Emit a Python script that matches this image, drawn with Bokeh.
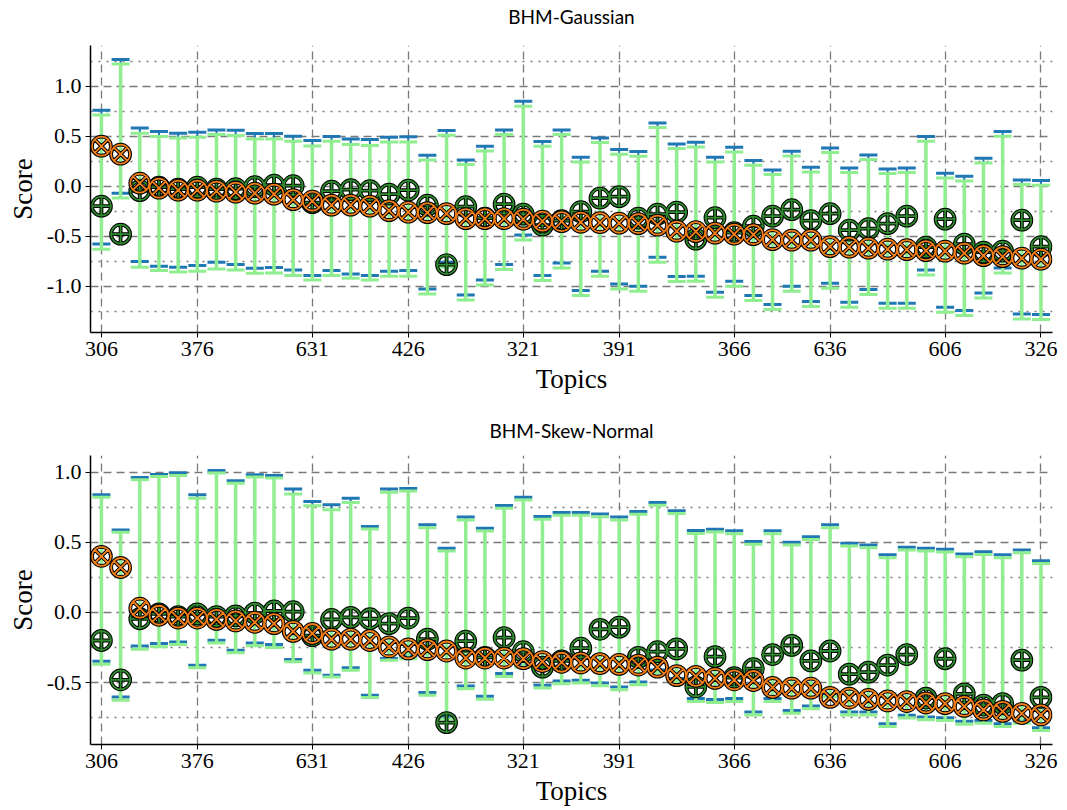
import numpy as np
from bokeh.plotting import figure
from bokeh.layouts import column
from bokeh.models import FixedTicker, ColumnDataSource, Range1d, PrintfTickFormatter, Title
from bokeh.embed import file_html
from bokeh.resources import INLINE

# ---------------- data ----------------
tick_labels = ["306", "376", "631", "426", "321", "391", "366", "636", "606", "326"]
n_topics = 50

observed = [0.40, 0.32, 0.03, -0.02, -0.04, -0.04, -0.05, -0.06, -0.07, -0.08,
            -0.135, -0.15, -0.19, -0.19, -0.20, -0.245, -0.26, -0.265, -0.275, -0.325,
            -0.325, -0.325, -0.33, -0.35, -0.355, -0.36, -0.365, -0.37, -0.375, -0.39,
            -0.45, -0.455, -0.47, -0.48, -0.485, -0.535, -0.54, -0.54, -0.605, -0.61,
            -0.62, -0.63, -0.635, -0.645, -0.65, -0.67, -0.695, -0.705, -0.72, -0.73]

predicted = [-0.20, -0.48, -0.045, -0.01, -0.03, -0.01, -0.03, -0.025, -0.005, 0.01,
             0.005, -0.165, -0.05, -0.035, -0.045, -0.08, -0.04, -0.19, -0.785, -0.205,
             -0.32, -0.18, -0.28, -0.39, -0.345, -0.255, -0.12, -0.105, -0.32, -0.28,
             -0.26, -0.53, -0.315, -0.465, -0.40, -0.30, -0.235, -0.345, -0.275, -0.44,
             -0.425, -0.375, -0.30, -0.61, -0.33, -0.58, -0.66, -0.65, -0.34, -0.605]

gauss_hi_blue = [0.76, 1.267, 0.583, 0.547, 0.53, 0.54, 0.563, 0.56, 0.527, 0.527,
                 0.50, 0.457, 0.497, 0.473, 0.467, 0.49, 0.495, 0.31, 0.557, 0.263,
                 0.40, 0.563, 0.85, 0.447, 0.563, 0.29, 0.483, 0.367, 0.347, 0.633,
                 0.423, 0.44, 0.29, 0.39, 0.257, 0.163, 0.35, 0.19, 0.383, 0.183,
                 0.313, 0.173, 0.183, 0.497, 0.13, 0.10, 0.28, 0.547, 0.063, 0.057]
gauss_lo_blue = [-0.577, -0.07, -0.753, -0.80, -0.81, -0.793, -0.76, -0.783, -0.82, -0.813,
                 -0.837, -0.893, -0.843, -0.877, -0.893, -0.85, -0.843, -1.027, -0.76, -1.087,
                 -0.937, -0.783, -0.487, -0.893, -0.767, -1.043, -0.85, -0.977, -1.0, -0.71,
                 -0.903, -0.90, -1.06, -0.95, -1.093, -1.183, -1.0, -1.153, -0.97, -1.16,
                 -1.033, -1.17, -1.17, -0.837, -1.21, -1.243, -1.067, -0.817, -1.277, -1.283]
gauss_hi_green = [0.713, 1.223, 0.53, 0.497, 0.483, 0.49, 0.517, 0.507, 0.473, 0.473,
                  0.45, 0.403, 0.45, 0.417, 0.407, 0.443, 0.443, 0.263, 0.51, 0.216,
                  0.353, 0.516, 0.80, 0.40, 0.516, 0.243, 0.436, 0.32, 0.30, 0.586,
                  0.376, 0.393, 0.243, 0.343, 0.21, 0.116, 0.303, 0.143, 0.336, 0.136,
                  0.266, 0.126, 0.136, 0.45, 0.083, 0.053, 0.233, 0.50, 0.016, 0.01]
gauss_lo_green = [-0.63, -0.117, -0.81, -0.843, -0.857, -0.85, -0.827, -0.837, -0.87, -0.867,
                  -0.893, -0.937, -0.893, -0.92, -0.937, -0.90, -0.90, -1.077, -0.81, -1.137,
                  -0.987, -0.833, -0.537, -0.943, -0.817, -1.093, -0.90, -1.027, -1.05, -0.76,
                  -0.953, -0.95, -1.11, -1.0, -1.143, -1.233, -1.05, -1.203, -1.02, -1.21,
                  -1.083, -1.22, -1.22, -0.887, -1.26, -1.293, -1.117, -0.867, -1.327, -1.333]

skew_hi_blue = [0.838, 0.588, 0.962, 0.983, 0.995, 0.838, 1.012, 0.938, 0.981, 0.976,
                0.879, 0.79, 0.767, 0.814, 0.612, 0.879, 0.883, 0.624, 0.457, 0.679,
                0.60, 0.762, 0.821, 0.683, 0.712, 0.712, 0.702, 0.679, 0.719, 0.783,
                0.724, 0.583, 0.593, 0.581, 0.505, 0.581, 0.50, 0.54, 0.624, 0.493,
                0.481, 0.41, 0.464, 0.457, 0.45, 0.417, 0.433, 0.41, 0.445, 0.369]
skew_lo_blue = [-0.348, -0.602, -0.24, -0.221, -0.21, -0.376, -0.198, -0.269, -0.217, -0.229,
                -0.336, -0.412, -0.448, -0.395, -0.59, -0.329, -0.31, -0.571, -0.74, -0.524,
                -0.598, -0.436, -0.37, -0.519, -0.488, -0.483, -0.502, -0.531, -0.495, -0.41,
                -0.47, -0.614, -0.621, -0.614, -0.71, -0.614, -0.698, -0.667, -0.58, -0.71,
                -0.71, -0.793, -0.733, -0.745, -0.75, -0.776, -0.77, -0.793, -0.77, -0.821]
skew_hi_green = [0.821, 0.571, 0.945, 0.969, 0.976, 0.814, 0.993, 0.921, 0.964, 0.957,
                 0.843, 0.76, 0.731, 0.783, 0.595, 0.857, 0.865, 0.604, 0.437, 0.659,
                 0.58, 0.742, 0.801, 0.663, 0.692, 0.692, 0.682, 0.659, 0.699, 0.763,
                 0.704, 0.563, 0.573, 0.561, 0.485, 0.561, 0.48, 0.52, 0.604, 0.473,
                 0.461, 0.39, 0.444, 0.437, 0.43, 0.397, 0.413, 0.39, 0.425, 0.349]
skew_lo_green = [-0.369, -0.626, -0.262, -0.245, -0.229, -0.395, -0.217, -0.288, -0.238, -0.25,
                 -0.352, -0.431, -0.46, -0.412, -0.607, -0.34, -0.33, -0.591, -0.76, -0.544,
                 -0.618, -0.456, -0.39, -0.539, -0.508, -0.503, -0.522, -0.551, -0.515, -0.43,
                 -0.49, -0.634, -0.641, -0.634, -0.73, -0.634, -0.718, -0.687, -0.60, -0.73,
                 -0.73, -0.813, -0.753, -0.765, -0.77, -0.796, -0.79, -0.813, -0.79, -0.841]

# ---------------- styling ----------------
SERIF = "Liberation Serif"
SANS = "Lato"
C_ORANGE = "#f57f17"
C_GREEN = "#2e8b2e"
C_BAR = "#90ee90"
C_BLUE = "#1f77b4"
GRID_C = "#7a7a7a"

idx = list(range(n_topics))
tick_idx = [int(round(v)) for v in np.linspace(0, n_topics - 1, len(tick_labels))]


def make_panel(title, hi_b, lo_b, hi_g, lo_g, yr, yticks, yminor, h, top, bottom, gap):
    p = figure(width=1067, height=h, output_backend="svg", toolbar_location=None,
               x_range=Range1d(-0.57, 49.6), y_range=Range1d(*yr),
               min_border_left=90, min_border_right=15,
               min_border_top=top, min_border_bottom=bottom,
               title=title)
    p.outline_line_color = None
    p.background_fill_color = "white"
    p.title.align = "center"
    p.title.text_font = SANS
    p.title.text_font_size = "19px"
    p.title.text_font_style = "normal"
    p.title.text_color = "black"
    p.title.standoff = 0
    # empty spacer between title and frame
    p.add_layout(Title(text=" ", text_font_size="1px", standoff=gap), "above")

    src = ColumnDataSource(dict(x=idx, obs=observed, pred=predicted,
                                hb=hi_b, lb=lo_b, hg=hi_g, lg=lo_g))

    # blue interval
    p.segment(x0="x", y0="lb", x1="x", y1="hb", source=src, line_color=C_BLUE, line_width=2)
    p.scatter(x="x", y="hb", source=src, marker="dash", size=18, line_color=C_BLUE, line_width=3)
    p.scatter(x="x", y="lb", source=src, marker="dash", size=18, line_color=C_BLUE, line_width=3)
    # green interval
    p.segment(x0="x", y0="lg", x1="x", y1="hg", source=src, line_color=C_BAR, line_width=3.5)
    p.scatter(x="x", y="hg", source=src, marker="dash", size=18, line_color=C_BAR, line_width=3)
    p.scatter(x="x", y="lg", source=src, marker="dash", size=18, line_color=C_BAR, line_width=3)

    # predicted (green circled plus)
    p.scatter(x="x", y="pred", source=src, marker="circle_cross", size=19,
              fill_color=None, line_color="black", line_width=3.8)
    p.scatter(x="x", y="pred", source=src, marker="circle_cross", size=19,
              fill_color=None, line_color=C_GREEN, line_width=1.8)
    # observed (orange circled x)
    p.scatter(x="x", y="obs", source=src, marker="circle_x", size=19,
              fill_color=None, line_color="black", line_width=3.8)
    p.scatter(x="x", y="obs", source=src, marker="circle_x", size=19,
              fill_color=None, line_color=C_ORANGE, line_width=1.8)

    # axes
    p.xaxis.ticker = FixedTicker(ticks=tick_idx)
    p.xaxis.major_label_overrides = {t: lab for t, lab in zip(tick_idx, tick_labels)}
    p.yaxis.ticker = FixedTicker(ticks=yticks, minor_ticks=yminor)
    p.yaxis.formatter = PrintfTickFormatter(format="%.1f")
    p.xaxis.axis_label = "Topics"
    p.yaxis.axis_label = "Score"
    for ax in (p.xaxis, p.yaxis):
        ax.axis_label_text_font = SERIF
        ax.axis_label_text_font_size = "27px"
        ax.axis_label_text_font_style = "normal"
        ax.axis_label_text_color = "black"
        ax.major_label_text_font = SERIF
        ax.major_label_text_font_size = "22px"
        ax.major_label_text_color = "black"
        ax.axis_line_color = "black"
        ax.axis_line_width = 1.5
        ax.major_tick_line_color = "black"
        ax.major_tick_out = 5
        ax.major_tick_in = 0
        ax.minor_tick_line_color = None
        ax.major_label_standoff = 4
    p.xaxis.axis_label_standoff = 5
    p.yaxis.axis_label_standoff = 6

    # grids
    p.xgrid.ticker = FixedTicker(ticks=tick_idx)
    p.xgrid.grid_line_color = GRID_C
    p.xgrid.grid_line_dash = "8 5"
    p.xgrid.grid_line_width = 1.3
    p.ygrid.grid_line_color = GRID_C
    p.ygrid.grid_line_dash = "8 5"
    p.ygrid.grid_line_width = 1.3
    p.ygrid.minor_grid_line_color = GRID_C
    p.ygrid.minor_grid_line_dash = "2 6"
    p.ygrid.minor_grid_line_width = 1.3
    return p


p1 = make_panel("BHM-Gaussian", gauss_hi_blue, gauss_lo_blue, gauss_hi_green, gauss_lo_green,
                (-1.463, 1.407), [-1.0, -0.5, 0.0, 0.5, 1.0],
                [-1.25, -0.75, -0.25, 0.25, 0.75, 1.25], 405, 45, 73, 15)
p2 = make_panel("BHM-Skew-Normal", skew_hi_blue, skew_lo_blue, skew_hi_green, skew_lo_green,
                (-0.941, 1.118), [-0.5, 0.0, 0.5, 1.0],
                [-0.75, -0.25, 0.25, 0.75], 405, 50, 66, 11)

layout = column(p1, p2, spacing=0)
open("out.html", "w").write(file_html(layout, INLINE))
